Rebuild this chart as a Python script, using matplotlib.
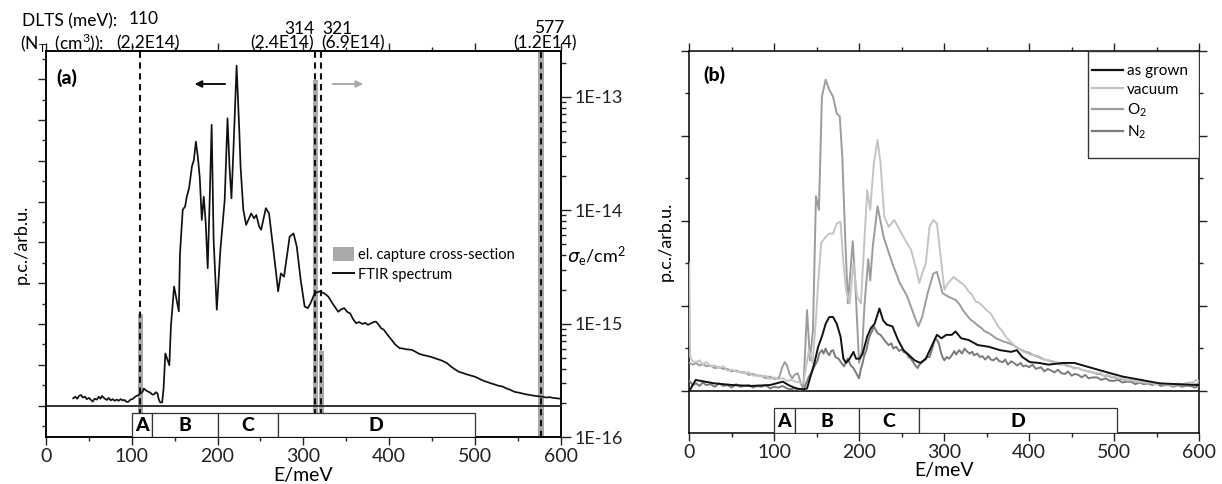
import math
import matplotlib
matplotlib.use("Agg")
import matplotlib.pyplot as plt
from matplotlib.patches import Rectangle, Patch
from matplotlib.lines import Line2D
from matplotlib.ticker import MultipleLocator, LogLocator, NullFormatter, FuncFormatter

plt.rcParams['font.family'] = ['Lato', 'DejaVu Sans']
plt.rcParams['mathtext.fontset'] = 'dejavusans'

# ---------------- panel (a): FTIR spectrum + DLTS levels ----------------
ftir_e = [31.7, 34.0, 36.5, 38.5, 40.9, 43.0, 45.5, 47.5, 50.0, 52.4, 54.5, 56.5, 59.4,
          61.5, 63.5, 65.3, 68.0, 70.9, 73.0, 75.5, 77.8, 80.0, 82.5, 84.7, 87.0, 89.5,
          91.6, 94.0, 96.3, 98.5, 100.8, 103.0, 105.5, 108.0, 110.1, 112.5, 114.0, 116.1,
          118.5, 121.6, 124.0, 126.2, 128.0, 129.9, 131.5, 133.1, 135.4, 137.0,
          139.1, 143.8, 145.6, 149.3, 154.8, 156.2, 159.4, 162.2, 164.1, 166.8, 170.1,
          172.4, 174.7, 177.0, 179.3, 181.6, 183.9, 186.2, 188.5, 190.8, 193.1, 195.4,
          199.1, 203.3, 205.6, 208.3, 211.6, 213.9, 216.2, 218.5, 222.2, 225.4, 226.8,
          230.0, 233.3, 239.2, 242.5, 245.2, 248.5, 250.8, 256.3, 260.0, 263.7, 268.3,
          270.6, 273.8, 277.5, 284.0, 288.6, 292.3, 296.9, 301.5, 305.2, 308.4, 313.1,
          319.1, 324.6, 329.2, 333.8, 340.7, 344.0, 347.7, 351.0, 354.6, 358.0, 361.5,
          365.0, 369.0, 372.0, 375.3, 379.0, 382.0, 384.6, 388.0, 390.5, 393.8, 398.0,
          403.0, 407.0, 412.2, 416.0, 420.0, 426.1, 430.0, 435.0, 439.9, 444.0, 448.0,
          453.8, 458.0, 462.0, 467.6, 472.0, 476.0, 481.4, 486.0, 490.0, 495.0, 499.9,
          505.0, 510.0, 514.0, 518.3, 523.0, 527.0, 532.2, 536.0, 541.0, 546.0, 551.0,
          555.0, 559.0, 564.5, 570.0, 574.0, 578.3, 583.0, 587.0, 591.0, 595.0, 600.0]
ftir_v = [0.18, 0.22, 0.17, 0.24, 0.26, 0.20, 0.22, 0.16, 0.19, 0.14, 0.10, 0.17, 0.15,
          0.22, 0.17, 0.24, 0.18, 0.14, 0.19, 0.13, 0.16, 0.12, 0.15, 0.12, 0.16, 0.13,
          0.14, 0.09, 0.10, 0.15, 0.16, 0.20, 0.24, 0.26, 0.30, 0.34, 0.42, 0.38,
          0.35, 0.32, 0.27, 0.28, 0.33, 0.30, 0.15, 0.08, 0.08, 0.40,
          1.28, 0.99, 1.94, 2.92, 2.31, 3.73, 4.80, 4.88, 5.12, 5.33, 5.86,
          6.02, 6.47, 6.10, 5.57, 4.55, 5.12, 4.47, 3.37, 5.04, 6.88, 4.06,
          2.35, 3.82, 4.39, 5.04, 7.04, 5.86, 5.08, 6.27, 8.33, 6.70, 5.86,
          4.80, 4.43, 4.71, 4.59, 4.67, 4.39, 4.31, 4.84, 4.71, 4.06, 3.24,
          2.80, 3.24, 3.16, 4.14, 4.22, 3.90, 3.08, 2.43, 2.39, 2.51, 2.75,
          2.80, 2.75, 2.67, 2.51, 2.30, 2.36, 2.39, 2.30, 2.26, 2.12, 2.02,
          2.05, 2.00, 2.03, 1.98, 2.02, 2.05, 2.06, 1.98, 1.90, 1.86, 1.74,
          1.61, 1.50, 1.41, 1.40, 1.38, 1.37, 1.33, 1.27, 1.24, 1.22, 1.20,
          1.16, 1.13, 1.10, 1.04, 0.96, 0.90, 0.83, 0.80, 0.77, 0.74, 0.71,
          0.66, 0.61, 0.58, 0.55, 0.52, 0.49, 0.47, 0.43, 0.39, 0.34, 0.32,
          0.30, 0.28, 0.26, 0.24, 0.23, 0.22, 0.20, 0.21, 0.19, 0.18, 0.17]

dlts_e = [110, 314, 321, 577]
dlts_sigma = [1.23e-15, 1.40e-13, 5.7e-16, 3.0e-13]
dlts_nt = ["(2.2E14)", "(2.4E14)", "(6.9E14)", "(1.2E14)"]

regions_a = [100, 124, 200, 270, 500]
regions_b = [100, 124, 200, 270, 504]
region_names = ["A", "B", "C", "D"]

# ---------------- panel (b): annealing series, (E/meV, signal) pairs ----------------
grown_pts = [(0, 0.00), (7.5, 0.13), (29.4, 0.09), (51.2, 0.07), (73.1, 0.06), (94.9, 0.07),
             (110.2, 0.11), (116.8, 0.07), (125.5, 0.03), (134.2, 0.02), (138.6, 0.03),
             (147.3, 0.33), (151.7, 0.52), (156.1, 0.64), (160.5, 0.79), (164.8, 0.87),
             (169.2, 0.87), (173.6, 0.79), (178.0, 0.64), (181.4, 0.38), (184.5, 0.33),
             (188.8, 0.38), (193.2, 0.46), (196.3, 0.38), (200.6, 0.38), (204.1, 0.44),
             (209.4, 0.64), (213.8, 0.74), (218.1, 0.79), (223.8, 0.97), (228.2, 0.83),
             (232.5, 0.78), (239.1, 0.76), (245.7, 0.60), (252.2, 0.48), (258.8, 0.42),
             (265.3, 0.36), (271.9, 0.33), (278.4, 0.38), (285.0, 0.52), (291.5, 0.66),
             (296.8, 0.62), (302.5, 0.66), (309.0, 0.66), (313.4, 0.70), (320.0, 0.62),
             (328.7, 0.60), (339.6, 0.54), (352.7, 0.52), (365.8, 0.48), (378.9, 0.46),
             (385.5, 0.48), (392.0, 0.40), (400.8, 0.34), (411.7, 0.33), (422.6, 0.31),
             (440.1, 0.33), (453.2, 0.33), (488.2, 0.23), (510.0, 0.17), (531.9, 0.13),
             (553.7, 0.09), (575.6, 0.08), (600.0, 0.07)]

vacuum_pts = [(0, 1.50), (1, 0.40), (4, 0.35), (8, 0.34), (12, 0.36), (16, 0.31), (20, 0.34),
              (25, 0.29), (30, 0.30), (35, 0.27), (40, 0.29), (45, 0.24), (50, 0.25),
              (55, 0.23), (60, 0.22), (65, 0.21), (70, 0.22), (75, 0.18), (80, 0.19),
              (85, 0.17), (90, 0.18), (95, 0.14), (100, 0.16), (105, 0.14), (110, 0.15),
              (115, 0.12), (120, 0.13), (125, 0.11), (130, 0.10), (134.2, 0.09),
              (140.8, 0.48), (145.2, 0.33), (149.5, 0.91), (151.7, 1.27), (155.2, 1.74),
              (160.5, 1.81), (164.8, 1.85), (169.2, 1.85), (173.6, 1.97), (178.0, 1.99),
              (181.4, 1.50), (184.5, 1.19), (188.8, 1.03), (193.2, 1.50), (197.6, 1.11),
              (202.0, 1.03), (209.4, 2.36), (212.9, 2.13), (217.3, 2.68), (221.6, 2.95),
              (225.1, 2.68), (229.5, 2.05), (234.7, 1.93), (241.3, 2.01), (247.8, 1.89),
              (254.4, 1.77), (261.0, 1.66), (267.5, 1.42), (270.6, 1.27), (274.1, 1.38),
              (278.4, 1.50), (282.8, 1.93), (287.2, 2.01), (291.5, 1.97), (295.9, 1.58),
              (300.3, 1.19), (304.7, 1.27), (311.2, 1.34), (315, 1.31), (320, 1.27),
              (324, 1.24), (328.7, 1.17), (333, 1.13), (337.4, 1.05), (341, 1.04),
              (346.2, 0.99), (350, 0.95), (354.9, 0.91), (359, 0.84), (363.6, 0.76),
              (368, 0.71), (372.4, 0.64), (377, 0.59), (383.3, 0.53), (388, 0.50),
              (392, 0.47), (396.4, 0.45), (401, 0.43), (405, 0.42), (409.5, 0.40),
              (414, 0.38), (418, 0.37), (422.6, 0.36), (427, 0.34), (431, 0.34), (436, 0.31),
              (440.1, 0.31), (445, 0.29), (449, 0.29), (453, 0.26), (457.6, 0.27),
              (462, 0.25), (466, 0.24), (470, 0.23), (475.1, 0.22), (480, 0.21), (484, 0.21),
              (488, 0.18), (492.5, 0.19), (497, 0.17), (501, 0.17), (505, 0.15), (510, 0.15),
              (515, 0.13), (520, 0.13), (526, 0.11), (531.9, 0.11), (537, 0.10), (542, 0.10),
              (548, 0.08), (553.7, 0.09), (559, 0.08), (564, 0.08), (570, 0.07),
              (575.6, 0.09), (581, 0.08), (587, 0.10), (593, 0.10), (597, 0.13), (600, 0.12)]

o2_pts = [(0, 0.33), (4, 0.31), (8, 0.33), (12, 0.30), (16, 0.32), (20, 0.29), (25, 0.30),
          (30, 0.27), (35, 0.28), (40, 0.26), (45, 0.26), (50, 0.23), (55, 0.24), (60, 0.22),
          (65, 0.22), (70, 0.19), (75, 0.20), (80, 0.18), (85, 0.18), (90, 0.15), (95, 0.17),
          (100, 0.14), (105.8, 0.16), (109, 0.27), (112.4, 0.34), (115, 0.30), (118, 0.20),
          (121.1, 0.15), (124, 0.19), (127.7, 0.21), (131, 0.10), (134.2, 0.02),
          (138.6, 0.95), (142.1, 0.36), (145.6, 0.72), (149.1, 2.29), (152.6, 2.13),
          (156.1, 3.46), (160.5, 3.66), (164.8, 3.54), (169.2, 3.46), (173.6, 3.26),
          (177.1, 3.23), (180.1, 2.75), (183.2, 1.89), (186.7, 1.03), (189.7, 1.42),
          (192.4, 1.76), (195.4, 1.27), (199.8, 0.33), (203.3, 0.48), (206.5, 1.05),
          (210.7, 1.55), (213.0, 1.30), (216.0, 1.70), (221.6, 2.17), (229.0, 1.80),
          (239.0, 1.50), (247.8, 1.27), (256.6, 1.11), (265.3, 0.87), (269.7, 0.76),
          (274.1, 0.87), (280.6, 1.15), (287.2, 1.38), (291.5, 1.40), (298.1, 1.15),
          (304.7, 1.11), (313.4, 1.07), (318, 1.02), (322.1, 0.95), (326, 0.90),
          (330.9, 0.84), (335, 0.81), (339.6, 0.77), (344, 0.74), (348, 0.70),
          (352.7, 0.68), (357, 0.65), (361, 0.62), (365.8, 0.60), (370, 0.58), (374, 0.57),
          (378.9, 0.55), (383, 0.53), (387, 0.50), (392, 0.48), (396, 0.46), (400, 0.45),
          (405.2, 0.42), (410, 0.41), (414, 0.39), (418, 0.37), (422.6, 0.36), (427, 0.35),
          (431, 0.34), (436, 0.32), (440.1, 0.32), (445, 0.30), (449, 0.29), (453, 0.27),
          (457.6, 0.27), (462, 0.25), (466, 0.24), (470, 0.23), (475.1, 0.22), (480, 0.20),
          (484, 0.20), (488, 0.18), (492.5, 0.18), (497, 0.16), (501, 0.16), (505, 0.14),
          (510, 0.14), (515, 0.12), (520, 0.12), (526, 0.11), (531.9, 0.10), (537, 0.09),
          (542, 0.09), (548, 0.08), (553.7, 0.08), (559, 0.07), (564, 0.07), (570, 0.06),
          (575.6, 0.07), (581, 0.06), (587, 0.07), (593, 0.07), (600, 0.09)]

n2_pts = [(0, 0.12), (4, 0.07), (8, 0.09), (12, 0.06), (16, 0.10), (20, 0.07), (25, 0.08),
          (30, 0.05), (35, 0.09), (40, 0.06), (45, 0.07), (50, 0.04), (55, 0.08), (60, 0.05),
          (65, 0.06), (70, 0.07), (75, 0.04), (80, 0.06), (85, 0.05), (90, 0.07), (95, 0.03),
          (100, 0.05), (105, 0.04), (110, 0.06), (115, 0.03), (120, 0.02), (125, 0.04),
          (130, 0.01), (135, 0.03), (138, 0.10), (140.8, 0.17), (144, 0.22), (147.3, 0.29),
          (151, 0.36), (153, 0.44), (156.1, 0.48), (158, 0.44), (160.5, 0.50), (162.5, 0.45),
          (164.8, 0.42), (167, 0.47), (169.2, 0.48), (172, 0.40), (175.7, 0.38), (179, 0.33),
          (182.3, 0.29), (184.5, 0.35), (186.7, 0.38), (190, 0.30), (193.2, 0.27),
          (196, 0.22), (199.8, 0.15), (202, 0.26), (204.1, 0.33), (206, 0.42), (208.5, 0.48),
          (211, 0.60), (212.9, 0.66), (215, 0.70), (217.3, 0.76), (219.5, 0.72),
          (221.6, 0.68), (225, 0.66), (228.2, 0.62), (231, 0.58), (234.7, 0.54), (238, 0.56),
          (240, 0.50), (243.5, 0.52), (247, 0.47), (250, 0.49), (252.2, 0.46), (256, 0.44),
          (258, 0.40), (260.9, 0.38), (264, 0.33), (266, 0.30), (268.8, 0.27), (271, 0.31),
          (274.1, 0.34), (278, 0.37), (280, 0.40), (282.8, 0.40), (286, 0.50), (289.4, 0.62),
          (291.5, 0.60), (293.7, 0.56), (296, 0.46), (298, 0.40), (300.3, 0.36), (303, 0.40),
          (306, 0.38), (309, 0.42), (312, 0.47), (314, 0.43), (317.8, 0.48), (321, 0.44),
          (324, 0.50), (326.5, 0.47), (330, 0.44), (333, 0.46), (335.2, 0.42), (339, 0.44),
          (342, 0.40), (345, 0.41), (348.3, 0.37), (352, 0.41), (355, 0.37), (358, 0.36),
          (361.5, 0.39), (365, 0.35), (369, 0.34), (372, 0.37), (375, 0.31), (378.9, 0.35),
          (382, 0.33), (386, 0.30), (390, 0.33), (393, 0.29), (396.4, 0.30), (400, 0.28),
          (404, 0.31), (408, 0.26), (411, 0.27), (414, 0.28), (418, 0.23), (422, 0.26),
          (426, 0.24), (430, 0.22), (434, 0.25), (438, 0.21), (442, 0.20), (446, 0.23),
          (450, 0.18), (454, 0.20), (458, 0.19), (462, 0.16), (466, 0.19), (470, 0.15),
          (475, 0.16), (480, 0.16), (485, 0.13), (490, 0.15), (495, 0.12), (500, 0.12),
          (505, 0.13), (510, 0.10), (515, 0.11), (520, 0.11), (525, 0.08), (530, 0.10),
          (535, 0.08), (540, 0.09), (545, 0.07), (550, 0.09), (555, 0.06), (560, 0.07),
          (565, 0.07), (570, 0.05), (575, 0.07), (580, 0.05), (585, 0.06), (590, 0.06),
          (595, 0.04), (600, 0.06)]

series_b = [("as grown", grown_pts, "#111111"),
            ("vacuum", vacuum_pts, "#c4c4c4"),
            ("O$_\\mathregular{2}$", o2_pts, "#9c9c9c"),
            ("N$_\\mathregular{2}$", n2_pts, "#7a7a7a")]

W, H = 1222, 484
fig = plt.figure(figsize=(W / 100, H / 100), dpi=100)


def add_axes_px(left, top, right, bottom):
    return fig.add_axes([left / W, 1 - bottom / H, (right - left) / W, (bottom - top) / H])


def style_axes(ax, major_len=6, minor_len=2.6):
    for s in ax.spines.values():
        s.set_linewidth(1.1)
    ax.tick_params(which='both', direction='out', width=1.0, colors='#222222',
                   labelsize=14, labelcolor='#222222')
    ax.tick_params(which='major', length=major_len)
    ax.tick_params(which='minor', length=minor_len)
    ax.xaxis.set_major_locator(MultipleLocator(100))
    ax.xaxis.set_minor_locator(MultipleLocator(50))
    ax.tick_params(axis='x', which='both', top=True, labeltop=False, pad=2)


def region_box(ax, edges, y0, y1):
    for i, name in enumerate(region_names):
        ax.add_patch(Rectangle((edges[i], y0), edges[i + 1] - edges[i], y1 - y0,
                               facecolor='white', edgecolor='#333333', lw=0.9, zorder=6))
        ax.text((edges[i] + edges[i + 1]) / 2, (y0 + y1) / 2 - 0.02 * (y1 - y0), name,
                ha='center', va='center', fontsize=14, fontweight='black', zorder=7)


# ===== panel (a) =====
AL, AT, AR, AB = 46, 51, 560.7, 437.3
axa = add_axes_px(AL, AT, AR, AB)
axa2 = axa.twinx()
axa.set_zorder(axa2.get_zorder() + 1)
axa.patch.set_visible(False)
style_axes(axa)
axa.set_xlim(0, 600)
axa.set_ylim(-0.775, 8.69)
axa.yaxis.set_major_locator(MultipleLocator(1))
axa.yaxis.set_minor_locator(MultipleLocator(0.5))
axa.yaxis.set_major_formatter(NullFormatter())
axa.tick_params(axis='y', which='both', right=False)

axa2.set_yscale('log')
axa2.set_ylim(1e-16, 2.53e-13)
axa2.yaxis.set_major_locator(LogLocator(base=10, numticks=10))
axa2.yaxis.set_minor_locator(LogLocator(base=10, subs=range(2, 10), numticks=20))
axa2.yaxis.set_minor_formatter(NullFormatter())
axa2.yaxis.set_major_formatter(FuncFormatter(lambda v, p: "1E%d" % round(math.log10(v))))
for s in axa2.spines.values():
    s.set_linewidth(1.1)
axa2.tick_params(which='both', direction='out', width=1.0, colors='#222222', labelsize=13,
                 labelcolor='#222222')
axa2.tick_params(which='major', length=7, pad=3)
axa2.tick_params(which='minor', length=3.5)

# capture cross-section bars and DLTS level markers
axa2.bar(dlts_e, [s - 1e-16 for s in dlts_sigma], width=6, bottom=1e-16,
         color='#a9a9a9', zorder=1)
for e in dlts_e:
    axa.axvline(e, color='#111111', lw=1.5, ls=(0, (3.0, 2.2)), zorder=2)

axa.axhline(0, color='#222222', lw=1.3, zorder=3)
axa.plot(ftir_e, ftir_v, color='#111111', lw=1.25, zorder=4)
region_box(axa, regions_a, -0.775, -0.172)

axa.set_xlabel("E/meV", fontsize=14, labelpad=1)
axa.set_ylabel("p.c./arb.u.", fontsize=13, labelpad=2)
axa.text(0.021, 0.929, "(a)", transform=axa.transAxes, fontsize=14, fontweight='black',
         ha='left', va='center')

# direction arrows
axa.annotate("", xy=(170, 0.9146), xytext=(212, 0.9146),
             xycoords=('data', 'axes fraction'), textcoords=('data', 'axes fraction'),
             arrowprops=dict(arrowstyle='-|>', color='#111111', lw=1.4, mutation_scale=10))
axa.annotate("", xy=(373, 0.9146), xytext=(331, 0.9146),
             xycoords=('data', 'axes fraction'), textcoords=('data', 'axes fraction'),
             arrowprops=dict(arrowstyle='-|>', color='#a8a8a8', lw=1.4, mutation_scale=10))

leg_a = axa.legend(handles=[Patch(facecolor='#a9a9a9', edgecolor='none'),
                            Line2D([], [], color='#111111', lw=1.4)],
                   labels=["el. capture cross-section", "FTIR spectrum"],
                   loc='upper left',
                   bbox_to_anchor=((333 - AL) / (AR - AL), (AB - 247) / (AB - AT)),
                   frameon=False, fontsize=10.5, handlelength=1.45, handleheight=1.15,
                   handletextpad=0.25, labelspacing=0.3, borderpad=0, borderaxespad=0)

axa2.text(1.013, (AB - 257) / (AB - AT), "$\\sigma_\\mathregular{e}\\mathregular{/cm^2}$",
          transform=axa2.transAxes, fontsize=13, ha='left', va='center')


# DLTS header above the energy axis
def fx(e, dx=0.0):
    return (AL + e * (AR - AL) / 600 + dx) / W


def fy(y):
    return 1 - y / H


hdr = 12.5
fig.text(22 / W, fy(21), "DLTS (meV):", fontsize=hdr, ha='left', va='center')
fig.text(20 / W, fy(43), "(N$_\\mathregular{T}$  (cm$^\\mathregular{3}$)):", fontsize=hdr,
         ha='left', va='center')
fig.text(fx(110, 3), fy(19), "%d" % dlts_e[0], fontsize=hdr, ha='center', va='center')
fig.text(fx(110, 8), fy(43), dlts_nt[0], fontsize=hdr, ha='center', va='center')
fig.text(fx(314, -1), fy(29), "%d" % dlts_e[1], fontsize=hdr, ha='right', va='center')
fig.text(fx(314, -1), fy(43), dlts_nt[1], fontsize=hdr, ha='right', va='center')
fig.text(fx(321, 1), fy(29), "%d" % dlts_e[2], fontsize=hdr, ha='left', va='center')
fig.text(fx(321, 0), fy(43), dlts_nt[2], fontsize=hdr, ha='left', va='center')
fig.text(fx(577, 8), fy(28), "%d" % dlts_e[3], fontsize=hdr, ha='center', va='center')
fig.text(fx(577, 4), fy(43), dlts_nt[3], fontsize=hdr, ha='center', va='center')

# ===== panel (b) =====
BL, BT, BR, BB = 689.3, 50.7, 1199, 432.7
axb = add_axes_px(BL, BT, BR, BB)
style_axes(axb)
axb.set_xlim(0, 600)
axb.set_ylim(-0.49, 4.0)
axb.yaxis.set_major_locator(MultipleLocator(1))
axb.yaxis.set_minor_locator(MultipleLocator(0.5))
axb.yaxis.set_major_formatter(NullFormatter())
axb.tick_params(axis='y', which='both', right=True)
axb.axhline(0, color='#222222', lw=1.3, zorder=3)
for name, pts, c in series_b[::-1]:
    axb.plot([p[0] for p in pts], [p[1] for p in pts], color=c, lw=1.4, zorder=4)
region_box(axb, regions_b, -0.49, -0.205)
axb.set_xlabel("E/meV", fontsize=14, labelpad=1)
axb.set_ylabel("p.c./arb.u.", fontsize=13, labelpad=2)
axb.text(0.027, 0.9377, "(b)", transform=axb.transAxes, fontsize=14, fontweight='black',
         ha='left', va='center')

# legend frame flush with the upper right corner, entries placed inside it
axb.add_patch(Rectangle(((1088 - BL) / (BR - BL), (BB - 158) / (BB - BT)),
                        (BR - 1088) / (BR - BL), (158 - BT) / (BB - BT),
                        transform=axb.transAxes, facecolor='white', edgecolor='#333333',
                        lw=1.0, zorder=8))
handles = [Line2D([], [], color=c, lw=1.6) for _, _, c in series_b]
leg_b = axb.legend(handles=handles, labels=[s[0] for s in series_b], loc='upper left',
                   bbox_to_anchor=((1092 - BL) / (BR - BL), (BB - 64) / (BB - BT)),
                   borderaxespad=0, frameon=False, fontsize=11, handlelength=2.0,
                   handletextpad=0.3, labelspacing=0.3, borderpad=0)
leg_b.set_zorder(9)

fig.savefig("out.png", dpi=100)
